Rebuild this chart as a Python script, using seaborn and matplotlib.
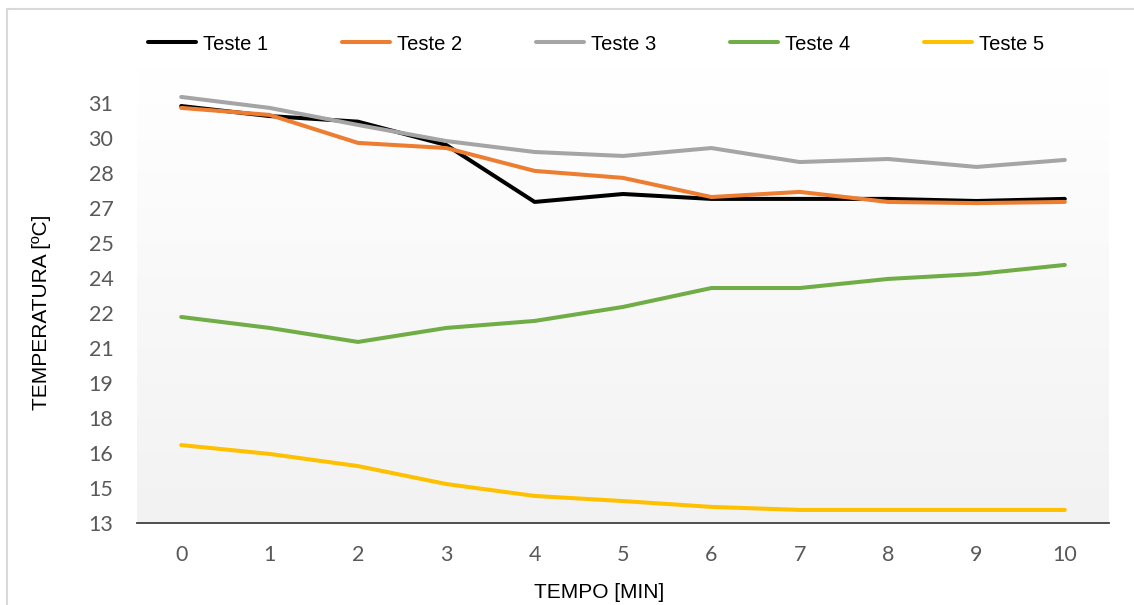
import numpy as np
import pandas as pd
import seaborn as sns
import matplotlib
matplotlib.use("Agg")
import matplotlib.pyplot as plt
from matplotlib.colors import LinearSegmentedColormap
from matplotlib.patches import Rectangle

# Temperature readings per test, one value per minute
tempo = list(range(11))
teste_1 = [30.87, 30.44, 30.20, 29.20, 26.76, 27.10, 26.89, 26.89, 26.89, 26.80, 26.89]
teste_2 = [30.79, 30.49, 29.29, 29.07, 28.09, 27.79, 26.97, 27.19, 26.76, 26.71, 26.76]
teste_3 = [31.26, 30.79, 30.06, 29.37, 28.90, 28.73, 29.07, 28.47, 28.60, 28.26, 28.56]
teste_4 = [21.83, 21.36, 20.76, 21.36, 21.66, 22.26, 23.07, 23.07, 23.46, 23.67, 24.06]
teste_5 = [16.34, 15.96, 15.44, 14.67, 14.16, 13.94, 13.69, 13.56, 13.56, 13.56, 13.56]

series_names = ["Teste 1", "Teste 2", "Teste 3", "Teste 4", "Teste 5"]
series_colors = ["#000000", "#ED7D31", "#A5A5A5", "#70AD47", "#FFC000"]

# Y axis: major unit 1.5, labels shown as whole numbers
y_ticks = [13 + 1.5 * i for i in range(13)]
y_tick_labels = ["13", "15", "16", "18", "19", "21", "22", "24", "25", "27", "28", "30", "31"]
x_tick_labels = [str(t) for t in tempo]

df = pd.concat(
    [pd.DataFrame({"tempo": tempo, "temp": vals, "teste": name})
     for name, vals in zip(series_names, [teste_1, teste_2, teste_3, teste_4, teste_5])],
    ignore_index=True,
)

sns.set_theme(style="white")
plt.rcParams["font.family"] = ["Liberation Sans", "DejaVu Sans"]

W, H = 1134, 605
fig = plt.figure(figsize=(W / 100, H / 100), dpi=100)
fig.patch.set_facecolor("white")

# outer chart frame
fig.patches.append(Rectangle((7 / W, -0.05), 1.2, 1.05 - 9 / H, transform=fig.transFigure,
                             fill=False, edgecolor="#d9d9d9", linewidth=1.5, zorder=0))

left, right, bottom, top = 137, 1109, 523, 68
ax = fig.add_axes([left / W, 1 - bottom / H, (right - left) / W, (bottom - top) / H])

# plot-area background: soft vertical gradient
grad = np.linspace(1, 0, 256).reshape(-1, 1)
cmap = LinearSegmentedColormap.from_list("bg", ["#f2f2f2", "#ffffff"])
ax.imshow(grad, cmap=cmap, aspect="auto", extent=(0, 1, 0, 1),
          transform=ax.transAxes, zorder=0, interpolation="bicubic")

sns.lineplot(data=df, x="tempo", y="temp", hue="teste", palette=series_colors,
             hue_order=series_names, linewidth=2.9, ax=ax, legend=True, zorder=3)
for ln in ax.lines:
    ln.set_solid_joinstyle("round")

ax.set_xlim(-0.5, 10.5)
ax.set_ylim(13, 32.5)
ax.set_xticks(tempo)
ax.set_xticklabels(x_tick_labels)
ax.set_yticks(y_ticks)
ax.set_yticklabels(y_tick_labels)

for sp in ["left", "right", "top"]:
    ax.spines[sp].set_visible(False)
ax.spines["bottom"].set_color("#404040")
ax.spines["bottom"].set_linewidth(1.3)
ax.spines["bottom"].set_zorder(4)

ax.tick_params(axis="both", length=0, colors="#595959", labelsize=15.5)
ax.tick_params(axis="y", pad=17)
ax.tick_params(axis="x", pad=16)
for lab in ax.get_xticklabels() + ax.get_yticklabels():
    lab.set_family(["Lato", "DejaVu Sans"])
    lab.set_color("#595959")

ax.set_xlabel("")
ax.set_ylabel("")
fig.text(42 / W, 1 - 312 / H, "TEMPERATURA [ºC]", rotation=90, ha="center", va="center",
         fontsize=15, color="#000000")
fig.text(599 / W, 1 - 592 / H, "TEMPO [MIN]", ha="center", va="center",
         fontsize=15, color="#000000")

handles, labels = ax.get_legend_handles_labels()
ax.get_legend().remove()
for h in handles:
    h.set_linewidth(2.9)
fig.legend(handles, labels, loc="center", bbox_to_anchor=(596 / W, 1 - 44 / H), ncol=5,
           frameon=False, fontsize=14.5, handlelength=2.4, handletextpad=0.35,
           columnspacing=3.65, labelcolor="#000000")

fig.savefig("out.png", dpi=100, facecolor="white")
